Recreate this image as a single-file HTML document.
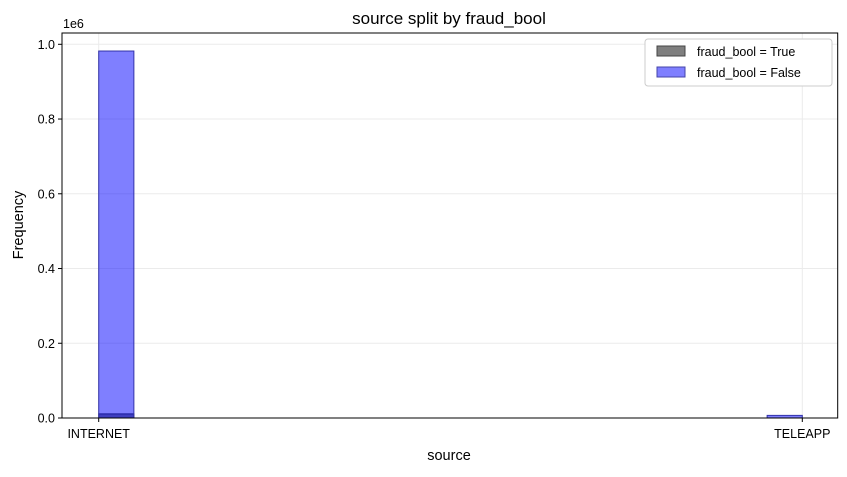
<!DOCTYPE html>
<html><head><meta charset="utf-8"><style>
body{margin:0;background:#fff;font-family:"Liberation Sans","DejaVu Sans",sans-serif}
</style></head><body>
<svg width="847" height="472" xmlns="http://www.w3.org/2000/svg" font-family="Liberation Sans, DejaVu Sans, sans-serif">
<text x="449" y="24" font-size="17" text-anchor="middle">source split by fraud_bool</text>
<g id="grid"></g>
<g id="bars"></g>
<rect x="62" y="33" width="775.7" height="385" fill="none" stroke="#000" stroke-width="1"/>
<g id="axes" font-size="12.5"></g>
<text x="63" y="28" font-size="12.5">1e6</text>
<text x="449" y="460" font-size="14.5" text-anchor="middle">source</text>
<text transform="translate(23,225) rotate(-90)" font-size="14.5" text-anchor="middle">Frequency</text>
<g>
<rect x="645" y="39" width="187" height="47" rx="3" fill="#fff" stroke="#ccc"/>
<rect x="657" y="46" width="28" height="10" fill="rgba(0,0,0,0.5)" stroke="#444"/>
<text x="697" y="56" font-size="12.5">fraud_bool = True</text>
<rect x="657" y="67" width="28" height="10" fill="rgba(0,0,255,0.5)" stroke="#4444aa"/>
<text x="697" y="77" font-size="12.5">fraud_bool = False</text>
</g>
</svg>
<script>
const categories = ["INTERNET","TELEAPP"];
const falseValues = [0.982e6, 0.007e6];
const trueValues = [0.011e6, 0.0001e6];
const yTicks = [0, 0.2e6, 0.4e6, 0.6e6, 0.8e6, 1.0e6];
const yTickLabels = ["0.0","0.2","0.4","0.6","0.8","1.0"];

const NS="http://www.w3.org/2000/svg";
const x0=98.7, x1=802.3, binW=(x1-x0)/20;
function xPos(i){return x0+(x1-x0)*i/(categories.length-1);}
function yPos(v){return 418-(418-44.3)*v/1e6;}
function mk(tag,attrs,parent){const e=document.createElementNS(NS,tag);for(const k in attrs)e.setAttribute(k,attrs[k]);parent.appendChild(e);return e;}
const grid=document.getElementById('grid'),bars=document.getElementById('bars'),axes=document.getElementById('axes');
yTicks.forEach((t,i)=>{
  const y=yPos(t);
  const g=mk('line',{x1:62,x2:837.7,y1:y,y2:y,stroke:'#ebebeb','stroke-width':1},grid);
  
  
  const tk=mk('line',{x1:58,x2:62,y1:y,y2:y,stroke:'#000'},axes);
  
  
  const tx=mk('text',{x:55,y:y+4.5,'text-anchor':'end'},axes);
  tx.textContent=yTickLabels[i];
  
  
});
categories.forEach((c,i)=>{
  const x=xPos(i);
  const g=mk('line',{x1:x,x2:x,y1:33,y2:418,stroke:'#ebebeb'},grid);
  
  
  const tk=mk('line',{x1:x,x2:x,y1:418,y2:422,stroke:'#000'},axes);
  
  
  const tx=mk('text',{x:x,y:438,'text-anchor':'middle'},axes);
  tx.textContent=c;
  
  
  const bx = i===0 ? x : x-binW;
  [[trueValues,'rgba(0,0,0,0.5)','#333','bar-true-'],[falseValues,'rgba(0,0,255,0.5)','#3333aa','bar-false-']].forEach(([arr,fill,st,nm])=>{
    const v=arr[i], y=yPos(v);
    const r=mk('rect',{x:bx,y:y,width:binW,height:418-y,fill:fill,stroke:st,'stroke-width':1},bars);
    
    
  });
});
</script>
</body></html>
